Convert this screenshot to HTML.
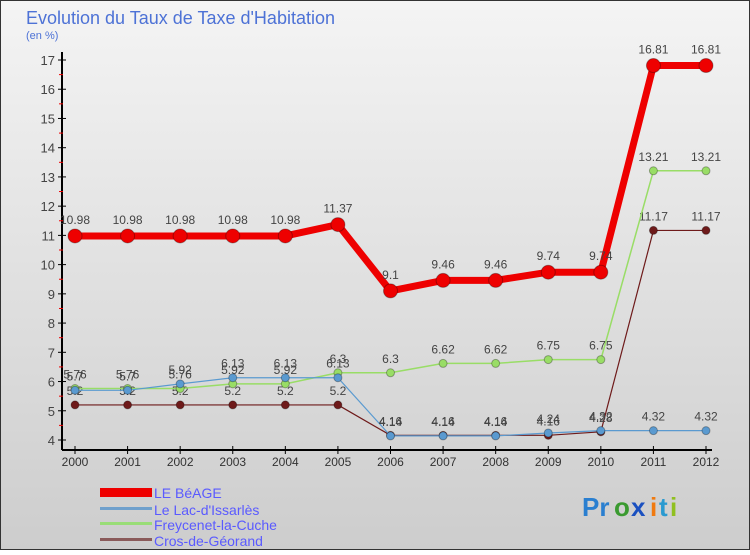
<!DOCTYPE html>
<html><head><meta charset="utf-8"><style>
body{margin:0;width:750px;height:550px;overflow:hidden;font-family:"Liberation Sans",sans-serif}
svg text{font-family:"Liberation Sans",sans-serif}
</style></head><body>
<svg id="c" width="750" height="550" xmlns="http://www.w3.org/2000/svg">
<defs><linearGradient id="bg" x1="0" y1="0" x2="0" y2="1"><stop offset="0" stop-color="#f4f4f4"/><stop offset="1" stop-color="#cdcdcd"/></linearGradient></defs>
<rect x="0.5" y="0.5" width="749" height="549" fill="url(#bg)" stroke="#333"/>
<text x="26" y="24" font-size="18" fill="#4d72d6">Evolution du Taux de Taxe d'Habitation</text>
<text x="26" y="39" font-size="11" fill="#4d72d6">(en %)</text>
<g id="axes"></g><g id="series"></g>
<g>
<rect x="100" y="488" width="52" height="9" fill="#e00"/>
<text x="154" y="498" font-size="14" fill="#5a5aff">LE BéAGE</text>
<rect x="100" y="507" width="52" height="3" fill="#6fa0cc"/>
<text x="154" y="515" font-size="14" fill="#5a5aff">Le Lac-d'Issarlès</text>
<rect x="100" y="522" width="52" height="3" fill="#99dd77"/>
<text x="154" y="530" font-size="14" fill="#5a5aff">Freycenet-la-Cuche</text>
<rect x="100" y="538" width="52" height="3" fill="#8a5a5a"/>
<text x="154" y="546" font-size="14" fill="#5a5aff">Cros-de-Géorand</text>
</g>
<g font-size="26" font-weight="bold">
<text x="582" y="516" fill="#2a7fd0">Pr</text><text x="614" y="516" fill="#3a9a30">o</text><text x="631" y="516" fill="#1a50c0">x</text><text x="650" y="516" fill="#f07a10">i</text><text x="659" y="516" fill="#2a9ad0">t</text><text x="670" y="516" fill="#90c020">i</text>
</g>
</svg>
<script>
const years=[2000,2001,2002,2003,2004,2005,2006,2007,2008,2009,2010,2011,2012];
const beage=[10.98,10.98,10.98,10.98,10.98,11.37,9.1,9.46,9.46,9.74,9.74,16.81,16.81];
const lac=[5.7,5.7,5.92,6.13,6.13,6.13,4.14,4.14,4.14,4.24,4.32,4.32,4.32];
const frey=[5.76,5.76,5.76,5.92,5.92,6.3,6.3,6.62,6.62,6.75,6.75,13.21,13.21];
const cros=[5.2,5.2,5.2,5.2,5.2,5.2,4.16,4.16,4.16,4.16,4.28,11.17,11.17];
const yTicks=[4,5,6,7,8,9,10,11,12,13,14,15,16,17];
const NS="http://www.w3.org/2000/svg";
const X=i=>75+i*(706-75)/(years.length-1);
const Y=v=>440-(v-4)*(440-60)/13;
function mk(t,a,p){const e=document.createElementNS(NS,t);for(const k in a)e.setAttribute(k,a[k]);p.appendChild(e);return e;}
const ax=document.getElementById('axes'),sg=document.getElementById('series');
let l=mk('line',{x1:62,y1:52,x2:62,y2:450,stroke:'#000','stroke-width':2},ax);


l=mk('line',{x1:62,y1:450,x2:712,y2:450,stroke:'#000','stroke-width':2},ax);


yTicks.forEach(v=>{
 mk('line',{x1:58,y1:Y(v),x2:66,y2:Y(v),stroke:'#000'},ax);
 if(v<17)mk('line',{x1:59,y1:Y(v+0.5),x2:63,y2:Y(v+0.5),stroke:'#e00'},ax);
 const t=mk('text',{x:55,y:Y(v)+5,'font-size':13,'text-anchor':'end',fill:'#444'},ax);t.textContent=v;
 
 
});
years.forEach((y,i)=>{
 mk('line',{x1:X(i),y1:446,x2:X(i),y2:454,stroke:'#000'},ax);
 const t=mk('text',{x:X(i),y:466,'font-size':12,'text-anchor':'middle',fill:'#333'},ax);t.textContent=y;
 
 
});
function series(d,col,w,r,name,lbl){
 const g=mk('g',{},sg);
 
 
 mk('polyline',{points:d.map((v,i)=>X(i)+','+Y(v)).join(' '),fill:'none',stroke:col,'stroke-width':w,'stroke-linejoin':'round'},g);
 d.forEach((v,i)=>{
  const c=mk('circle',{cx:X(i),cy:Y(v),r:r,fill:col,stroke:'rgba(0,0,0,0.3)'},g);
  
  
  const t=mk('text',{x:X(i),y:Y(v)-lbl,'font-size':12,'text-anchor':'middle',fill:'#444'},g);t.textContent=v;
  
  
 });
}
series(cros,'#6e1a1a',1.2,4,'cros',10);
series(frey,'#99dd66',1.5,4,'freycenet',10);
series(lac,'#5a9ad0',1.2,4,'lac',10);
series(beage,'#ee0000',7,7,'le-beage',12);
</script>
</body></html>
